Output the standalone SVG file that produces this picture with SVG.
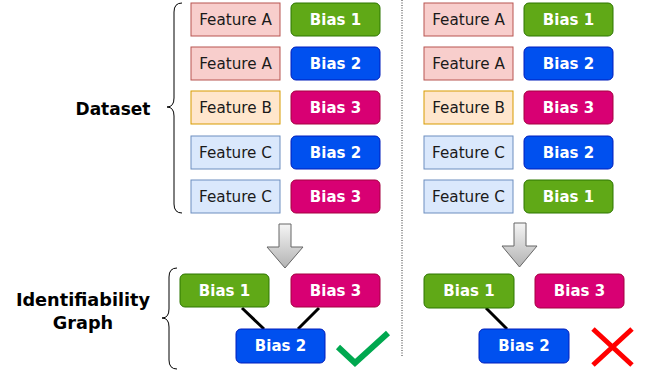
<svg xmlns="http://www.w3.org/2000/svg" width="645" height="375" viewBox="0 0 645 375">
<defs>
<linearGradient id="ag" x1="0" y1="0" x2="0" y2="1">
<stop offset="0" stop-color="#f5f5f5"/>
<stop offset="1" stop-color="#b3b3b3"/>
</linearGradient>
<style>
.fa{fill:#f8cecc;stroke:#b85450;stroke-width:1}
.fb{fill:#ffe6cc;stroke:#d79b00;stroke-width:1}
.fc{fill:#dae8fc;stroke:#6c8ebf;stroke-width:1}
.b1{fill:#60a917;stroke:#2d7600;stroke-width:1}
.b2{fill:#0050ef;stroke:#001dbc;stroke-width:1}
.b3{fill:#d80073;stroke:#a50040;stroke-width:1}
.ft{font-family:"DejaVu Sans",Verdana,sans-serif;font-size:15.2px;fill:#1a1a1a;text-anchor:middle}
.bt{font-family:"DejaVu Sans",Verdana,sans-serif;font-size:15px;font-weight:bold;fill:#ffffff;text-anchor:middle}
.lt{font-family:"DejaVu Sans",Verdana,sans-serif;font-size:17px;font-weight:bold;fill:#000000;text-anchor:middle}
.lg{font-size:17.7px}
.brace{fill:none;stroke:#000;stroke-width:1}
.arr{fill:url(#ag);stroke:#666666;stroke-width:1}
.edge{stroke:#000;stroke-width:3;fill:none}
</style>
</defs>
<line x1="402" y1="0" x2="402" y2="357" stroke="#333" stroke-width="1" stroke-dasharray="1,1.5"/>

<g id="label-dataset">
<text class="lt" x="113" y="114.5">Dataset</text>
<path class="brace" d="M182,3 Q174,3 174,12 L174,98 Q174,107 167,107 Q174,107 174,116 L174,204 Q174,213 182,213"/>
</g>
<g id="label-graph">
<text class="lt lg" x="83" y="306">Identifiability</text>
<text class="lt lg" x="83" y="329">Graph</text>
<path class="brace" d="M177,268 Q169,268 169,277 L169,309 Q169,318 162,318 Q169,318 169,327 L169,360 Q169,369 177,369"/>
</g>

<g id="left-row1"><rect class="fa" x="191" y="3" width="89" height="33"/><text class="ft" x="235.5" y="25">Feature A</text>
<rect class="b1" x="291" y="3" width="89" height="33" rx="5"/><text class="bt" x="335.5" y="24.5">Bias 1</text></g>
<g id="left-row2"><rect class="fa" x="191" y="47" width="89" height="33"/><text class="ft" x="235.5" y="69">Feature A</text>
<rect class="b2" x="291" y="47" width="89" height="33" rx="5"/><text class="bt" x="335.5" y="68.5">Bias 2</text></g>
<g id="left-row3"><rect class="fb" x="191" y="91" width="89" height="33"/><text class="ft" x="235.5" y="113">Feature B</text>
<rect class="b3" x="291" y="91" width="89" height="33" rx="5"/><text class="bt" x="335.5" y="112.5">Bias 3</text></g>
<g id="left-row4"><rect class="fc" x="191" y="136" width="89" height="33"/><text class="ft" x="235.5" y="158">Feature C</text>
<rect class="b2" x="291" y="136" width="89" height="33" rx="5"/><text class="bt" x="335.5" y="157.5">Bias 2</text></g>
<g id="left-row5"><rect class="fc" x="191" y="180" width="89" height="33"/><text class="ft" x="235.5" y="202">Feature C</text>
<rect class="b3" x="291" y="180" width="89" height="33" rx="5"/><text class="bt" x="335.5" y="201.5">Bias 3</text></g>

<g id="right-row1"><rect class="fa" x="424" y="3" width="89" height="33"/><text class="ft" x="468.5" y="25">Feature A</text>
<rect class="b1" x="524" y="3" width="89" height="33" rx="5"/><text class="bt" x="568.5" y="24.5">Bias 1</text></g>
<g id="right-row2"><rect class="fa" x="424" y="47" width="89" height="33"/><text class="ft" x="468.5" y="69">Feature A</text>
<rect class="b2" x="524" y="47" width="89" height="33" rx="5"/><text class="bt" x="568.5" y="68.5">Bias 2</text></g>
<g id="right-row3"><rect class="fb" x="424" y="91" width="89" height="33"/><text class="ft" x="468.5" y="113">Feature B</text>
<rect class="b3" x="524" y="91" width="89" height="33" rx="5"/><text class="bt" x="568.5" y="112.5">Bias 3</text></g>
<g id="right-row4"><rect class="fc" x="424" y="136" width="89" height="33"/><text class="ft" x="468.5" y="158">Feature C</text>
<rect class="b2" x="524" y="136" width="89" height="33" rx="5"/><text class="bt" x="568.5" y="157.5">Bias 2</text></g>
<g id="right-row5"><rect class="fc" x="424" y="180" width="89" height="33"/><text class="ft" x="468.5" y="202">Feature C</text>
<rect class="b1" x="524" y="180" width="89" height="33" rx="5"/><text class="bt" x="568.5" y="201.5">Bias 1</text></g>

<g id="arrow-left"><path class="arr" d="M279,224 L291,224 L291,247 L303,247 L285,268 L267,247 L279,247 Z"/></g>
<g id="arrow-right"><path class="arr" d="M514,223 L526,223 L526,246 L537,246 L519.5,267 L502,246 L514,246 Z"/></g>

<g id="connectors">
<line class="edge" x1="242" y1="308" x2="264" y2="329"/>
<line class="edge" x1="319" y1="308" x2="298" y2="329"/>
<line class="edge" x1="486" y1="308" x2="507" y2="329"/>
</g>

<g id="g-left-bias1"><rect class="b1" x="180" y="274" width="89" height="33" rx="5"/><text class="bt" x="224.5" y="295.5">Bias 1</text></g>
<g id="g-left-bias3"><rect class="b3" x="291" y="274" width="89" height="33" rx="5"/><text class="bt" x="335.5" y="295.5">Bias 3</text></g>
<g id="g-left-bias2"><rect class="b2" x="236" y="329" width="89" height="34" rx="5"/><text class="bt" x="280.5" y="351">Bias 2</text></g>

<g id="g-right-bias1"><rect class="b1" x="424" y="274" width="90" height="34" rx="5"/><text class="bt" x="469" y="296">Bias 1</text></g>
<g id="g-right-bias3"><rect class="b3" x="535" y="274" width="89" height="34" rx="5"/><text class="bt" x="579.5" y="296">Bias 3</text></g>
<g id="g-right-bias2"><rect class="b2" x="479" y="329" width="90" height="34" rx="5"/><text class="bt" x="524" y="351">Bias 2</text></g>

<g id="check"><path d="M338,347 L355,363 L388,333" fill="none" stroke="#00a84f" stroke-width="6"/></g>
<g id="cross"><path d="M593,329 L632,365 M632,329 L593,365" fill="none" stroke="#ff0000" stroke-width="5"/></g>
</svg>
